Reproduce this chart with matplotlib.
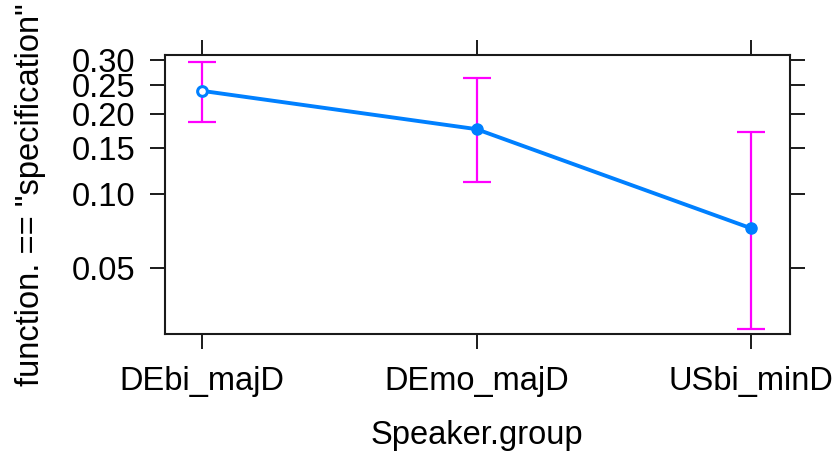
import matplotlib
matplotlib.use("Agg")
import matplotlib.pyplot as plt
from matplotlib.ticker import FixedLocator, FixedFormatter, NullLocator

plt.rcParams['font.family'] = ['Liberation Sans', 'DejaVu Sans']

# fitted probabilities with 95% confidence limits per speaker group
groups = ["DEbi_majD", "DEmo_majD", "USbi_minD"]
fit = [0.239, 0.176, 0.073]
lower = [0.187, 0.111, 0.0278]
upper = [0.296, 0.264, 0.1715]
yticks = [0.05, 0.10, 0.15, 0.20, 0.25, 0.30]
ytick_labels = ["0.05", "0.10", "0.15", "0.20", "0.25", "0.30"]

blue = "#0080FF"
magenta = "#FF00FF"
fs = 23.5

fig = plt.figure(figsize=(8.33, 4.54), dpi=100)
ax = fig.add_axes([165 / 833, 1 - 334.3 / 454, (789.5 - 165) / 833, (334.3 - 55.3) / 454])

x = list(range(1, len(groups) + 1))
yerr = [[f - l for f, l in zip(fit, lower)], [u - f for f, u in zip(fit, upper)]]

ax.errorbar(x, fit, yerr=yerr, fmt="none", ecolor=magenta, elinewidth=1.6,
            capsize=10, capthick=1.6, zorder=2)
ax.plot(x, fit, color=blue, lw=2.8, zorder=3)
ax.plot(x[1:], fit[1:], "o", color=blue, ms=8, zorder=4)
ax.plot(x[:1], fit[:1], "o", mfc="white", mec=blue, mew=2.2, ms=7, zorder=4)

ax.set_yscale("logit")
ax.set_ylim(0.02637, 0.310)
ax.set_xlim(0.865, 3.14)

ax.yaxis.set_major_locator(FixedLocator(yticks))
ax.yaxis.set_major_formatter(FixedFormatter(ytick_labels))
ax.yaxis.set_minor_locator(NullLocator())
ax.set_xticks(x)
ax.set_xticklabels(groups)

for s in ax.spines.values():
    s.set_linewidth(1.5)
    s.set_color("#1a1a1a")

ax.tick_params(axis="both", which="major", direction="out", length=10.5,
               width=1.4, color="#1a1a1a", labelsize=fs,
               top=True, right=True, labeltop=False, labelright=False)
ax.tick_params(axis="y", pad=11)
ax.tick_params(axis="x", pad=12)

ax.set_xlabel("Speaker.group", fontsize=fs, labelpad=17)
ax.set_ylabel('function. == "specification"', fontsize=fs, va="center")
ax.yaxis.set_label_coords(-0.215, 0.5)

fig.savefig("out.png", dpi=100)
